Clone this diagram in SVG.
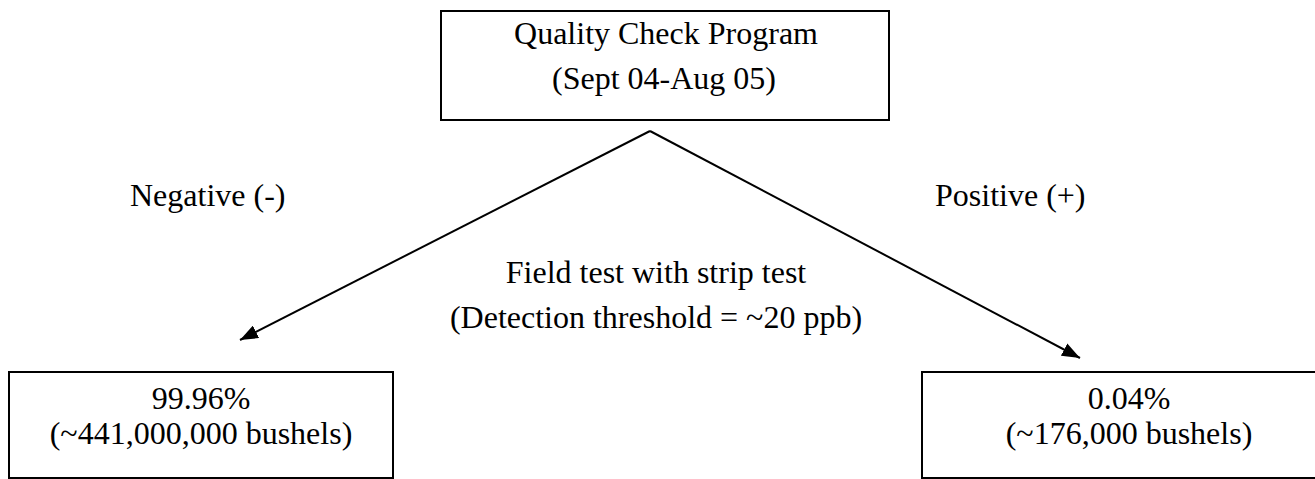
<svg xmlns="http://www.w3.org/2000/svg" width="1315" height="479" viewBox="0 0 1315 479">
  <style>
    .box { fill: #ffffff; stroke: #000000; stroke-width: 2; }
    .lbl { font-family: "Liberation Serif", "Times New Roman", serif; font-size: 32px; fill: #000000; }
    .mid { text-anchor: middle; }
    .edge { fill: none; stroke: #000000; stroke-width: 2; }
  </style>
  <defs>
    <marker id="arrowhead" viewBox="0 0 18 14" refX="18" refY="7" markerWidth="18" markerHeight="14" markerUnits="userSpaceOnUse" orient="auto">
      <path d="M0,0 L18,7 L0,14 Z" fill="#000000"/>
    </marker>
  </defs>
  <rect width="1315" height="479" fill="#ffffff"/>

  <g id="connectors">
    <line class="edge" x1="650" y1="131" x2="240" y2="340" style="marker-end:url(#arrowhead)"/>
    <line class="edge" x1="650" y1="131" x2="1080" y2="358" style="marker-end:url(#arrowhead)"/>
  </g>

  <g id="node-program">
    <rect class="box" x="441" y="11" width="448" height="109"/>
    <text class="lbl mid" x="666" y="44">Quality Check Program</text>
    <text class="lbl mid" x="664" y="89">(Sept 04-Aug 05)</text>
  </g>

  <g id="label-negative">
    <text class="lbl" x="130" y="206">Negative (-)</text>
  </g>
  <g id="label-positive">
    <text class="lbl" x="935" y="206">Positive (+)</text>
  </g>
  <g id="label-test">
    <text class="lbl mid" x="656" y="283">Field test with strip test</text>
    <text class="lbl mid" x="656" y="328">(Detection threshold = ~20 ppb)</text>
  </g>

  <g id="node-negative">
    <rect class="box" x="9" y="372" width="384" height="106"/>
    <text class="lbl mid" x="201" y="409">99.96%</text>
    <text class="lbl mid" x="201" y="444">(~441,000,000 bushels)</text>
  </g>

  <g id="node-positive">
    <rect class="box" x="922" y="372" width="412" height="106"/>
    <text class="lbl mid" x="1129" y="409">0.04%</text>
    <text class="lbl mid" x="1129" y="444">(~176,000 bushels)</text>
  </g>
</svg>
